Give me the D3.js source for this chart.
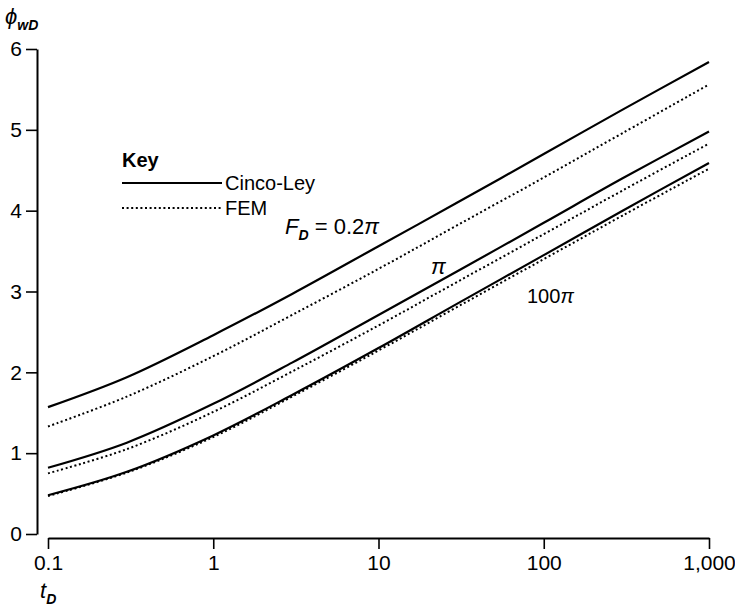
<!DOCTYPE html>
<html lang="en">
<head>
<meta charset="UTF-8" />
<script src="https://d3js.org/d3.v7.min.js"></script>
<style>
  body { margin: 0; background: #fff; }
  text { font-family: "Liberation Sans", Arial, sans-serif; fill: #000; }
</style>
</head>
<body>
<script>
var w = 735;
var h = 608;

// time values (t_D) and the six curves
var tD = [0.1, 0.3, 1, 3, 10, 30, 100, 300, 1000];
var cincoLey02 = [1.57, 1.94, 2.46, 2.97, 3.56, 4.10, 4.70, 5.25, 5.84];
var fem02 = [1.33, 1.70, 2.20, 2.71, 3.28, 3.82, 4.41, 4.96, 5.56];
var cincoLeyPi = [0.82, 1.13, 1.61, 2.12, 2.71, 3.25, 3.85, 4.40, 4.98];
var femPi = [0.75, 1.05, 1.51, 2.01, 2.58, 3.12, 3.71, 4.25, 4.83];
var cincoLey100 = [0.48, 0.77, 1.22, 1.72, 2.30, 2.85, 3.45, 4.00, 4.59];
var fem100 = [0.47, 0.76, 1.20, 1.70, 2.27, 2.81, 3.40, 3.94, 4.52];

var xTicks = [0.1, 1, 10, 100, 1000];
var xTickLabels = ["0.1", "1", "10", "100", "1,000"];
var yTicks = [0, 1, 2, 3, 4, 5, 6];

var svg = d3.select("body").append("svg")
  .attr("width", w)
  .attr("height", h);

var xScale = d3.scaleLog().domain([0.1, 1000]).range([48, 709]);
var yScale = d3.scaleLinear().domain([0, 6]).range([534, 49]);

// y axis
var yAxis = d3.axisLeft(yScale)
  .tickValues(yTicks)
  .tickSize(11)
  .tickPadding(4)
  .tickSizeOuter(0)
  .tickFormat(d3.format("d"));
var gy = svg.append("g").attr("transform", "translate(37,0)").call(yAxis);
gy.select(".domain").attr("stroke-width", 2);
gy.selectAll(".tick line").attr("stroke-width", 1.6);
gy.selectAll(".tick text").attr("font-size", 21).attr("font-family", "Liberation Sans, Arial, sans-serif");

// x axis, drawn a little below the y axis end
var xAxis = d3.axisBottom(xScale)
  .tickValues(xTicks)
  .tickSize(11)
  .tickPadding(6)
  .tickSizeOuter(0)
  .tickFormat(function (d, i) { return xTickLabels[i]; });
var gx = svg.append("g").attr("transform", "translate(0,538)").call(xAxis);
gx.select(".domain").attr("stroke-width", 1.8);
gx.selectAll(".tick line").attr("stroke-width", 1.6);
gx.selectAll(".tick text").attr("font-size", 21).attr("font-family", "Liberation Sans, Arial, sans-serif");

// axis titles
var yt = svg.append("text").attr("x", 5).attr("y", 24).attr("font-size", 22).attr("font-style", "italic");
yt.append("tspan").text("\u03d5");
yt.append("tspan").attr("dy", 6).attr("font-size", 14).attr("font-weight", "bold").text("wD");

var xt = svg.append("text").attr("x", 40).attr("y", 598).attr("font-size", 22).attr("font-style", "italic");
xt.append("tspan").text("t");
xt.append("tspan").attr("dy", 6).attr("font-size", 14).attr("font-weight", "bold").text("D");

// curves
var line = d3.line()
  .x(function (d) { return xScale(d[0]); })
  .y(function (d) { return yScale(d[1]); })
  .curve(d3.curveCatmullRom);

var series = [
  { v: cincoLey02, dotted: false },
  { v: fem02, dotted: true },
  { v: cincoLeyPi, dotted: false },
  { v: femPi, dotted: true },
  { v: cincoLey100, dotted: false },
  { v: fem100, dotted: true }
];

svg.selectAll("path.curve")
  .data(series)
  .enter()
  .append("path")
  .attr("class", "curve")
  .attr("fill", "none")
  .attr("stroke", "#000")
  .attr("stroke-width", function (d) { return d.dotted ? 2 : 2.2; })
  .attr("stroke-dasharray", function (d) { return d.dotted ? "2,2.6" : null; })
  .attr("d", function (d) {
    return line(d.v.map(function (y, i) { return [tD[i], y]; }));
  });

// legend
svg.append("text").attr("x", 122).attr("y", 167).attr("font-size", 20).attr("font-weight", "bold").text("Key");
svg.append("line").attr("x1", 122).attr("x2", 222).attr("y1", 183).attr("y2", 183)
  .attr("stroke", "#000").attr("stroke-width", 2);
svg.append("text").attr("x", 225).attr("y", 190).attr("font-size", 20).text("Cinco-Ley");
svg.append("line").attr("x1", 122).attr("x2", 222).attr("y1", 208).attr("y2", 208)
  .attr("stroke", "#000").attr("stroke-width", 2).attr("stroke-dasharray", "2,2.6");
svg.append("text").attr("x", 225).attr("y", 215).attr("font-size", 20).text("FEM");

// curve labels
var fl = svg.append("text").attr("x", 285).attr("y", 234).attr("font-size", 22);
fl.append("tspan").attr("font-style", "italic").text("F");
fl.append("tspan").attr("dy", 6).attr("font-size", 14).attr("font-style", "italic").attr("font-weight", "bold").text("D");
fl.append("tspan").attr("dy", -6).text(" = 0.2");
fl.append("tspan").attr("font-style", "italic").text("\u03c0");

svg.append("text").attr("x", 431).attr("y", 274).attr("font-size", 22).attr("font-style", "italic").text("\u03c0");

var hl = svg.append("text").attr("x", 527).attr("y", 303).attr("font-size", 20);
hl.append("tspan").text("100");
hl.append("tspan").attr("font-style", "italic").text("\u03c0");
</script>
</body>
</html>
